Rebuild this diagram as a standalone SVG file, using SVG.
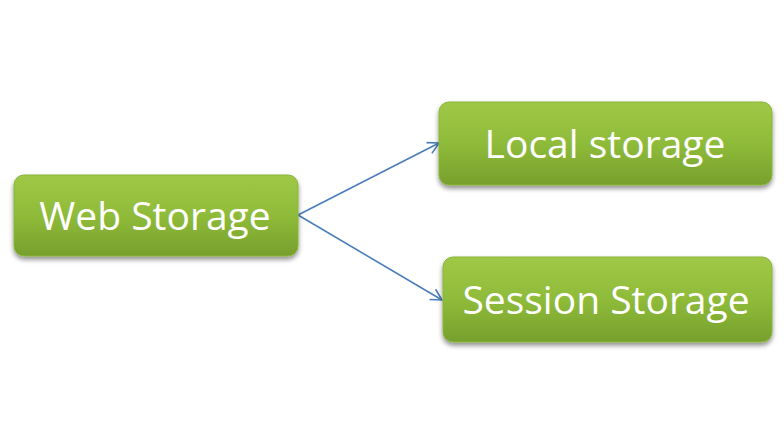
<svg xmlns="http://www.w3.org/2000/svg" width="784" height="441" viewBox="0 0 784 441">
<defs>
<linearGradient id="g" x1="0" y1="0" x2="0" y2="1">
<stop offset="0" stop-color="#a0c847"/>
<stop offset="0.5" stop-color="#8fbb3a"/>
<stop offset="1" stop-color="#76a02c"/>
</linearGradient>
<filter id="sh" x="-10%" y="-20%" width="120%" height="150%">
<feGaussianBlur in="SourceAlpha" stdDeviation="2.5"/>
<feOffset dy="3" result="b"/>
<feComponentTransfer><feFuncA type="linear" slope="0.45"/></feComponentTransfer>
<feMerge><feMergeNode/><feMergeNode in="SourceGraphic"/></feMerge>
</filter>
<marker id="arr" markerWidth="14" markerHeight="14" refX="12" refY="7" orient="auto" markerUnits="userSpaceOnUse">
<path d="M1,1 L12,7 L1,13" fill="none" stroke="#4a7ebb" stroke-width="1.6"/>
</marker>
</defs>
<style>
.box{fill:url(#g);stroke:#8ab43a;stroke-width:1;filter:url(#sh)}
.t{font-family:"Open Sans","Noto Sans",sans-serif;font-size:39px;fill:#ffffff;text-anchor:middle}
.c{fill:none;stroke:#4a7ebb;stroke-width:1.6}
</style>
<rect width="784" height="441" fill="#ffffff"/>
<g id="connectors">
<path class="c" d="M298,215 L439,143" marker-end="url(#arr)"/>
<path class="c" d="M298,215 L442,300" marker-end="url(#arr)"/>
</g>
<g id="web">
<rect class="box" x="14" y="175" width="284" height="81" rx="10"/>
<text class="t" x="155" y="230">Web Storage</text>
</g>
<g id="local">
<rect class="box" x="439" y="102" width="333" height="83" rx="10"/>
<text class="t" x="605" y="158">Local storage</text>
</g>
<g id="session">
<rect class="box" x="443" y="257" width="329" height="85" rx="10"/>
<text class="t" x="606" y="314">Session Storage</text>
</g>
</svg>
